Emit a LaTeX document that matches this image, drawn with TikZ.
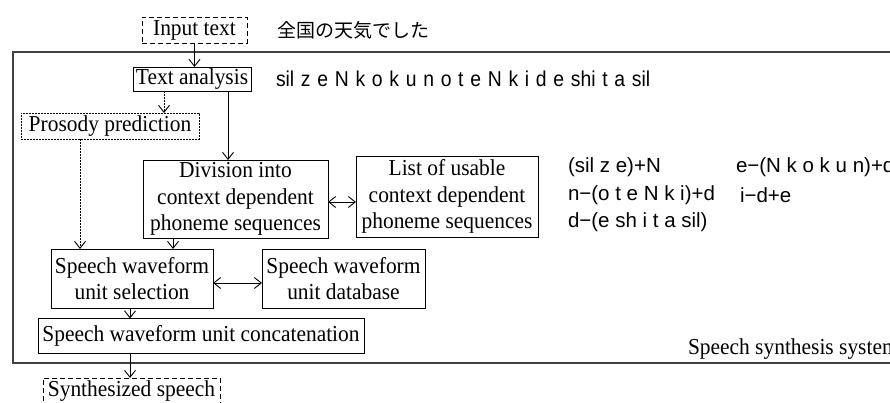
\documentclass[tikz,border=0pt]{standalone}
\usepackage{fontspec}
\setmainfont{Liberation Serif}[FakeStretch=0.94]
\newfontfamily\jpfont{Noto Sans CJK JP}
\newfontfamily\phonfont{Liberation Sans}[FakeStretch=0.9,WordSpace=1.25]
\newfontfamily\listfont{Liberation Sans}
\usetikzlibrary{arrows.meta}
\begin{document}
\begin{tikzpicture}[x=1pt,y=-1pt,
  every node/.style={inner sep=0pt,outer sep=0pt},
  box/.style={draw=black,line width=0.9pt,align=center,font=\fontsize{22.8}{26.5}\selectfont},
  dashbox/.style={box,dash pattern=on 5pt off 3pt},
  dotbox/.style={box,dash pattern=on 1.6pt off 1.4pt},
  arr/.style={draw=black,line width=0.9pt,-{Straight Barb[length=7pt,width=11pt,line width=0.9pt]}},
  darr/.style={draw=black,line width=0.9pt,{Straight Barb[length=7pt,width=11pt,line width=0.9pt]}-{Straight Barb[length=7pt,width=11pt,line width=0.9pt]}},
  dotarr/.style={arr,dash pattern=on 1.6pt off 1.4pt},
  phon/.style={anchor=west,font=\phonfont\fontsize{21.5}{24}\selectfont},
  plist/.style={anchor=west,font=\listfont\fontsize{20.5}{24}\selectfont},
  lbl/.style={anchor=west,font=\fontsize{22.8}{26.5}\selectfont}]
\useasboundingbox (0,0) rectangle (890,403);
\clip (0,0) rectangle (890,403);
\fill[white] (0,0) rectangle (890,403);

% outer system box
\draw[line width=1.3pt,draw=black!75] (13,52) rectangle (905,363);

% nodes
\node[dashbox,minimum width=105pt,minimum height=26pt] (input) at (194.5,30) {Input text};
\node[anchor=west,font=\jpfont\fontsize{19}{22}\selectfont] (jp) at (277,30) {全国の天気でした};
\node[box,minimum width=118pt,minimum height=24pt] (ta) at (192,79) {Text analysis};
\node[phon] (seq) at (276,79) {sil z e N k o k u n o t e N k i d e shi t a sil};
\node[dotbox,minimum width=178pt,minimum height=26pt] (pros) at (110,126) {Prosody prediction};
\node[box,minimum width=185pt,minimum height=78pt] (div) at (235.5,199) {Division into\\context dependent\\phoneme sequences};
\node[box,minimum width=182pt,minimum height=81pt] (list) at (447,196.5) {List of usable\\context dependent\\phoneme sequences};
\node[box,minimum width=162pt,minimum height=59pt] (sel) at (132,278.5) {Speech waveform\\unit selection};
\node[box,minimum width=163pt,minimum height=59pt] (db) at (343.5,278.5) {Speech waveform\\unit database};
\node[box,minimum width=326pt,minimum height=35pt] (cat) at (201,336) {Speech waveform unit concatenation};
\node[dashbox,minimum width=177pt,minimum height=36pt,anchor=north] (syn) at (131.5,378) {};
\node[font=\fontsize{22.8}{26.5}\selectfont] (syntxt) at (131.5,391) {Synthesized speech};
\node[lbl] (sys) at (688,349) {Speech synthesis system};

% phoneme list
\node[plist] (p1) at (568,167) {(sil z e)+N};
\node[plist] (p2) at (736,167) {e−(N k o k u n)+d};
\node[plist] (p3) at (568,195) {n−(o t e N k i)+d};
\node[plist] (p4) at (740,195) {i−d+e};
\node[plist] (p5) at (568,222) {d−(e sh i t a sil)};

% guide coordinates
\coordinate (xa) at (164,0);
\coordinate (xb) at (228,0);
\coordinate (xc) at (80,0);
\coordinate (xd) at (173,0);
\coordinate (xe) at (130,0);
\coordinate (ya) at (0,202);
\coordinate (yb) at (0,283);

% connectors
\draw[arr] (input.south) -- (ta.north -| input.south);
\draw[dotarr] (ta.south -| xa) -- (pros.north -| xa);
\draw[arr] (ta.south -| xb) -- (div.north -| xb);
\draw[darr] (div.east |- ya) -- (list.west |- ya);
\draw[dotarr] (pros.south -| xc) -- (sel.north -| xc);
\draw[arr] (div.south -| xd) -- (sel.north -| xd);
\draw[darr] (sel.east |- yb) -- (db.west |- yb);
\draw[arr] (sel.south -| xe) -- (cat.north -| xe);
\draw[arr] (cat.south -| xe) -- (syn.north -| xe);
\end{tikzpicture}
\end{document}
